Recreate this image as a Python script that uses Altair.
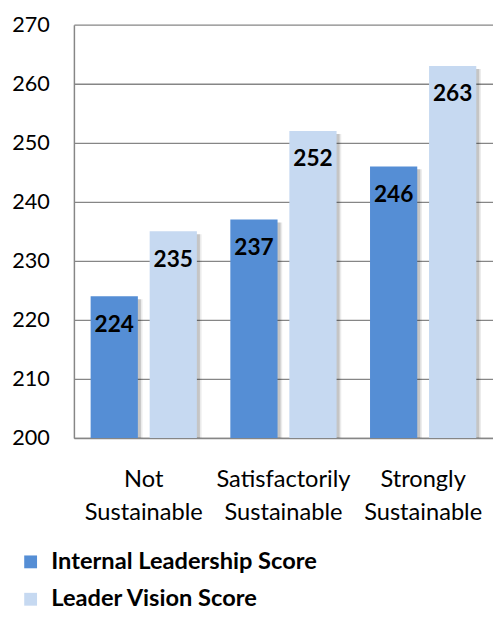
import altair as alt
import pandas as pd

categories = ["Not\nSustainable", "Satisfactorily\nSustainable", "Strongly\nSustainable"]
series = ["Internal Leadership Score", "Leader Vision Score"]
internal = [224, 237, 246]
vision = [235, 252, 263]
colors = ["#558ED5", "#C6D9F1"]
y_ticks = [200, 210, 220, 230, 240, 250, 260, 270]

rows = []
for c, a, b in zip(categories, internal, vision):
    rows.append({"cat": c, "series": series[0], "value": a})
    rows.append({"cat": c, "series": series[1], "value": b})
df = pd.DataFrame(rows)

FONT = "Lato"
P_OUT = 0.2833

x_enc = alt.X("cat:N", sort=categories,
              scale=alt.Scale(paddingInner=0, paddingOuter=0),
              axis=alt.Axis(title=None, labelExpr="split(datum.label, '\\n')",
                            labelAngle=0, labelFontSize=24, labelFont=FONT,
                            labelColor="#000", labelLineHeight=34, labelPadding=30,
                            ticks=False, tickSize=0, domainColor="#868686",
                            domainWidth=1.5, grid=False))
y_scale = alt.Scale(domain=[200, 270], nice=False, zero=False)
y_enc = alt.Y("value:Q", scale=y_scale,
              axis=alt.Axis(title=None, values=y_ticks, labelFontSize=22,
                            labelFont=FONT, labelColor="#000", labelPadding=25,
                            ticks=False, tickSize=0, domainColor="#868686",
                            domainWidth=1.5, gridColor="#868686", gridWidth=1.3))


def off_enc(align=0.5):
    return alt.XOffset("series:N", sort=series,
                       scale=alt.Scale(type="band", paddingInner=0.2,
                                       paddingOuter=P_OUT, align=align))


def shadow(align, opacity):
    return alt.Chart(df).mark_bar(color="#000", opacity=opacity, yOffset=3).encode(
        x=x_enc,
        xOffset=off_enc(align),
        y=y_enc,
        y2=alt.datum(200),
    )


bars = alt.Chart(df).mark_bar().encode(
    x=x_enc,
    xOffset=off_enc(0.5),
    y=y_enc,
    y2=alt.datum(200),
    color=alt.Color("series:N", sort=series,
                    scale=alt.Scale(domain=series, range=colors),
                    legend=alt.Legend(title=None, orient="none", legendX=-56, legendY=534,
                                      direction="vertical", symbolType="square",
                                      symbolSize=170, symbolStrokeWidth=0,
                                      labelFont=FONT, labelFontSize=24,
                                      labelFontWeight="bold", labelColor="#000",
                                      labelOffset=9, rowPadding=14, labelLimit=450)),
)

labels = alt.Chart(df).mark_text(baseline="middle", dy=29, font=FONT, fontSize=23,
                                 fontWeight="bold", color="#000").encode(
    x=x_enc,
    xOffset=off_enc(0.5),
    y=y_enc,
    text="value:Q",
)

chart = alt.layer(shadow(0.64, 0.08), shadow(0.59, 0.16), bars, labels).resolve_scale(
    xOffset="independent"
).properties(
    width=426, height=420,
    autosize=alt.AutoSizeParams(type="none"),
    padding={"left": 67, "top": 12, "right": 0, "bottom": 175},
).configure_view(stroke=None)

chart.save("out.html", embed_options={"renderer": "svg", "actions": False})
